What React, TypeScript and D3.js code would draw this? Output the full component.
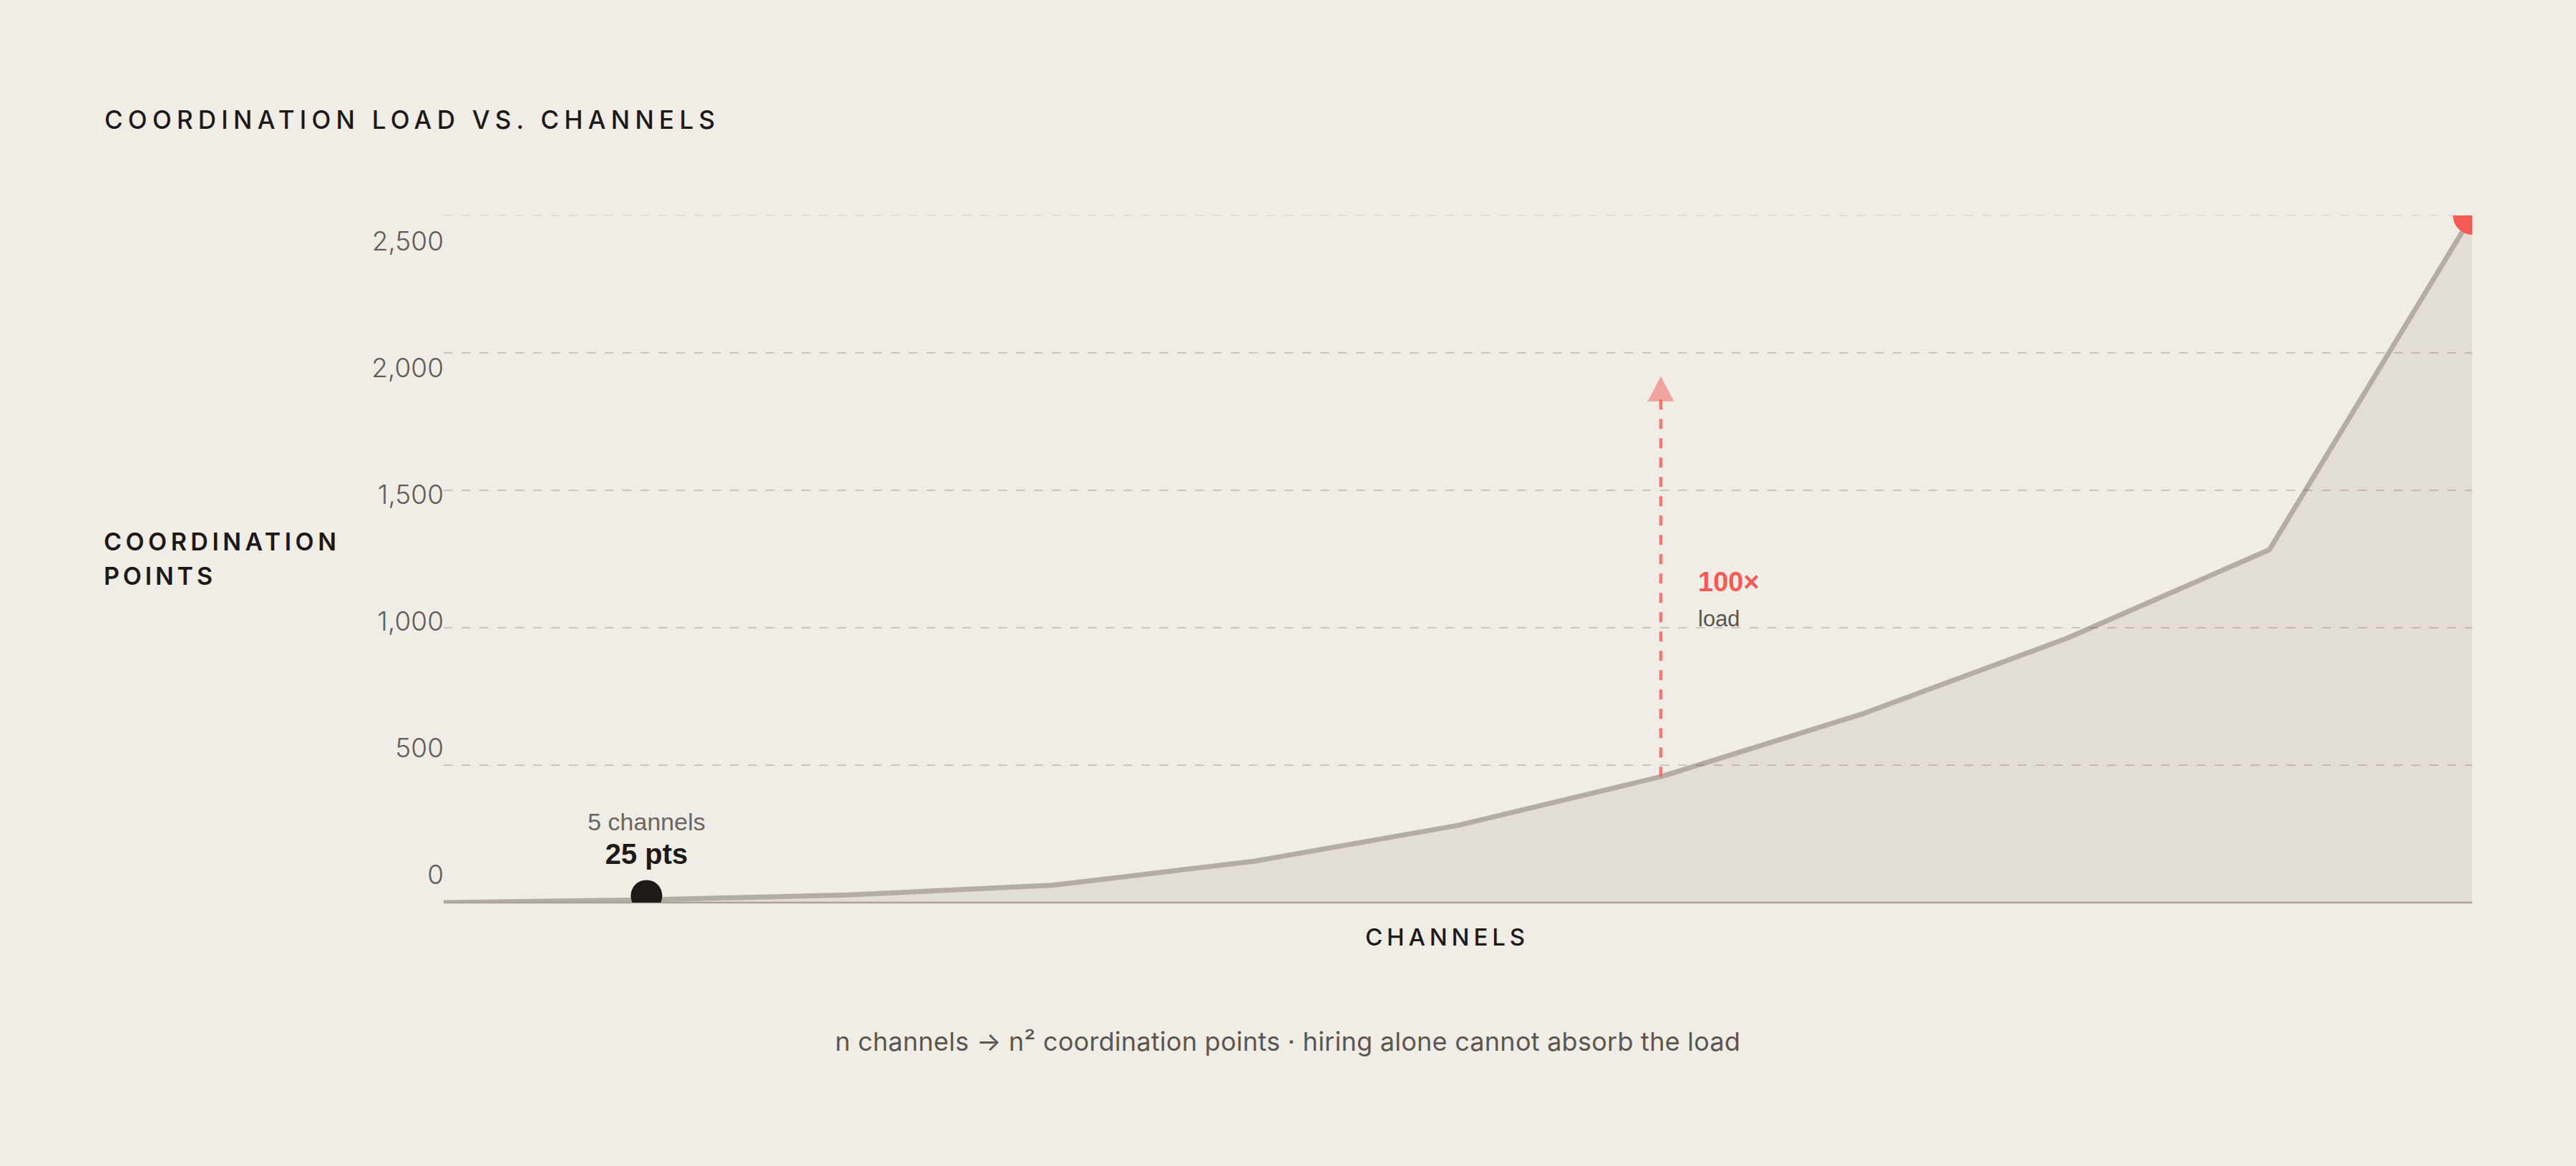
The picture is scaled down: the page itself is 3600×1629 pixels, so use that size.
import { useEffect } from "react";
import * as d3 from "d3";

// channel counts along the x axis and the coordination points at each step
const channels = [0, 5, 10, 15, 20, 25, 30, 35, 40, 45, 50];
const loadPoints = [0, 10, 28, 63, 151, 281, 458, 688, 961, 1284, 2500];

const yTicks = [0, 500, 1000, 1500, 2000, 2500];
const yTickLabels = ["0", "500", "1,000", "1,500", "2,000", "2,500"];

// annotations
const startChannels = 5;
const startPoints = 25;
const arrowChannels = 30;
const arrowTopPoints = 1915;

const W = 3600;
const H = 1629;
const margin = { top: 301, right: 145, bottom: 368, left: 620 };

const BG = "#f0ece6";
const INK = "#1c1917";
const MUTED = "#6b6660";
const RED = "#f25c54";
const SANS = "Inter, 'Noto Sans', sans-serif";
const ARIAL = "'Liberation Sans', Arial, sans-serif";

const App = () => {
  useEffect(() => {
    document.body.style.margin = "0";
    document.body.style.background = BG;
  }, []);

  const x = d3
    .scaleLinear()
    .domain([0, 50])
    .range([margin.left, W - margin.right]);
  const y = d3
    .scaleLinear()
    .domain([0, 2500])
    .range([H - margin.bottom, margin.top]);
  // tick labels sit on their own, slightly tighter, rhythm
  const yLabel = d3.scaleLinear().domain([0, 2500]).range([1222, 337]);

  const pts = channels.map((c, i) => [c, loadPoints[i]]);
  const line = d3
    .line()
    .x((d) => x(d[0]))
    .y((d) => y(d[1]));
  const area = d3
    .area()
    .x((d) => x(d[0]))
    .y0(y(0))
    .y1((d) => y(d[1]));

  const ax = x(arrowChannels);
  const arrowBase = y(loadPoints[channels.indexOf(arrowChannels)]);
  const tip = y(arrowTopPoints);
  const last = pts[pts.length - 1];

  return (
    <div style={{ position: "absolute", left: 0, top: 0 }}>
      <svg width={W} height={H} style={{ display: "block", background: BG }}>
        <defs>
          <clipPath id="plot">
            <rect
              x={x(0)}
              y={y(2500)}
              width={x(50) - x(0)}
              height={y(0) - y(2500)}
            />
          </clipPath>
        </defs>
        <rect width={W} height={H} fill={BG} />

        <text
          x={146}
          y={180}
          fontFamily={SANS}
          fontWeight={500}
          fontSize={35}
          fill={INK}
          textLength={853}
          lengthAdjust="spacing"
        >
          COORDINATION LOAD VS. CHANNELS
        </text>

        <text fontFamily={SANS} fontWeight={600} fontSize={34} fill={INK}>
          <tspan x={145} y={769} textLength={325} lengthAdjust="spacing">
            COORDINATION
          </tspan>
          <tspan x={145} y={817} textLength={152} lengthAdjust="spacing">
            POINTS
          </tspan>
        </text>

        {yTicks.map((t, i) => (
          <text
            key={t}
            x={x(0)}
            y={yLabel(t) + 13}
            textAnchor="end"
            fontFamily={SANS}
            fontWeight={300}
            fontSize={37}
            fill="#625d57"
          >
            {yTickLabels[i]}
          </text>
        ))}

        <g clipPath="url(#plot)">
          <path d={area(pts)} fill="#e2ddd6" />
          <path
            d={line(pts)}
            fill="none"
            stroke="#b3ada6"
            strokeWidth={7}
            strokeLinejoin="round"
          />
        </g>

        {yTicks
          .filter((t) => t > 0)
          .map((t) => (
            <line
              key={t}
              x1={x(0)}
              x2={x(50)}
              y1={y(t)}
              y2={y(t)}
              stroke="#3c3228"
              strokeOpacity={t === 2500 ? 0.08 : 0.2}
              strokeWidth={2}
              strokeDasharray="12.5 12.5"
            />
          ))}

        <line
          x1={x(0)}
          x2={x(50)}
          y1={y(0)}
          y2={y(0)}
          stroke="#a9a39c"
          strokeWidth={2.5}
        />

        <g clipPath="url(#plot)">
          <circle cx={x(last[0])} cy={y(last[1])} r={27} fill={RED} />
          <circle
            cx={x(startChannels)}
            cy={y(startPoints)}
            r={22}
            fill={INK}
          />
        </g>

        {/* growth arrow */}
        <line
          x1={ax}
          x2={ax}
          y1={arrowBase}
          y2={tip + 22}
          stroke={RED}
          strokeOpacity={0.8}
          strokeWidth={4.5}
          strokeDasharray="14 13"
        />
        <path
          d={`M${ax},${tip} L${ax + 18.5},${tip + 35} L${ax - 18.5},${tip + 35} Z`}
          fill={RED}
          fillOpacity={0.5}
        />
        <text
          x={ax + 52}
          y={826}
          fontFamily={ARIAL}
          fontWeight={700}
          fontSize={38}
          fill={RED}
        >
          100×
        </text>
        <text
          x={ax + 52}
          y={875}
          fontFamily={ARIAL}
          fontSize={31}
          fill="#5b5650"
        >
          load
        </text>

        <text
          x={x(startChannels)}
          y={1160}
          textAnchor="middle"
          fontFamily={ARIAL}
          fontSize={34}
          fill={MUTED}
        >
          5 channels
        </text>
        <text
          x={x(startChannels)}
          y={1207}
          textAnchor="middle"
          fontFamily={ARIAL}
          fontWeight={700}
          fontSize={40}
          fill={INK}
        >
          25 pts
        </text>

        <text
          x={1908}
          y={1321}
          fontFamily={SANS}
          fontWeight={500}
          fontSize={33}
          fill={INK}
          textLength={223}
          lengthAdjust="spacing"
        >
          CHANNELS
        </text>

        <text
          x={1167}
          y={1468}
          fontFamily={SANS}
          fontWeight={400}
          fontSize={36}
          fill="#5b5650"
          textLength={1265}
          lengthAdjust="spacing"
        >
          n channels → n² coordination points · hiring alone cannot absorb the load
        </text>
      </svg>
    </div>
  );
};

export default App;
